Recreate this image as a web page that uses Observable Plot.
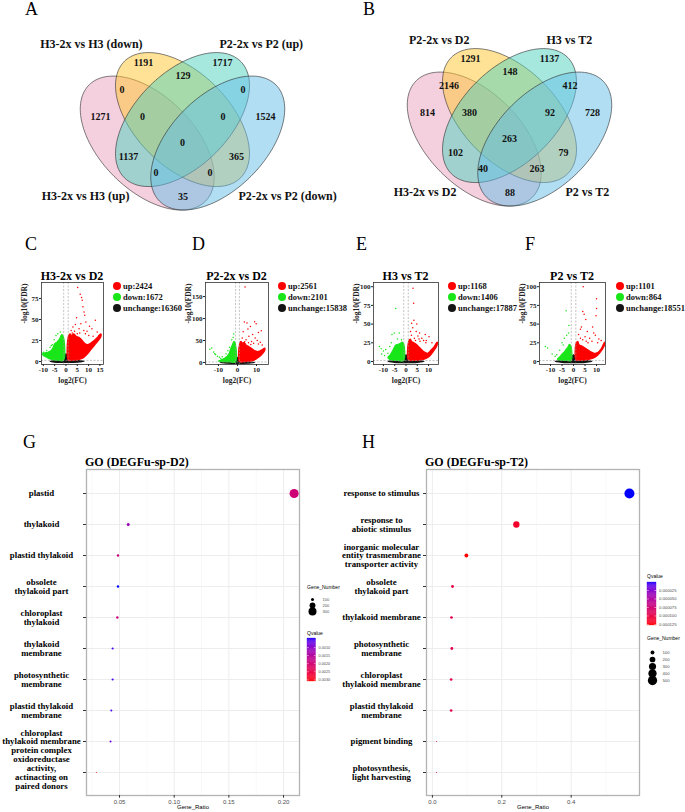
<!DOCTYPE html>
<html><head><meta charset="utf-8">
<script src="https://cdn.jsdelivr.net/npm/d3@7"></script>
<script src="https://cdn.jsdelivr.net/npm/@observablehq/plot@0.6"></script>
<style>
body{margin:0;background:#fff;}
#root{position:relative;width:685px;height:812px;overflow:hidden;background:#fff;}
.abs{position:absolute;}
.abs svg{display:block;max-width:none;}
</style></head><body><div id="root"></div>
<script>
// ---------------- DATA ----------------
// Venn (A and B): region order = set memberships
const vennRegions = ["2","23","3","12","34","1","123","234","4","1234","13","24","134","124","14"];
const vennALabels = ["H3-2x vs H3 (up)","H3-2x vs H3 (down)","P2-2x vs P2 (up)","P2-2x vs P2 (down)"];
const vennACounts = [1191,129,1717,0,0,1271,0,0,1524,0,1137,365,0,0,35];
const vennBLabels = ["H3-2x vs D2","P2-2x vs D2","H3 vs T2","P2 vs T2"];
const vennBCounts = [1291,148,1137,2146,412,814,380,92,728,263,102,79,40,263,88];

// Volcano (C-F)
const volcanoTitles = ["H3-2x vs D2","P2-2x vs D2","H3 vs T2","P2 vs T2"];
const upCounts = [2424,2561,1168,1101];
const downCounts = [1672,2101,1406,864];
const unchangeCounts = [16360,15838,17887,18551];
const fcThreshold = [-1,1];
const fdrThreshold = [1.3];
const volcXTicks = [[-10,-5,0,5,10,15],[-10,0,10],[-10,-5,0,5,10],[-10,-5,0,5,10]];
const volcYTicks = [[0,25,50,75],[0,50,100,150],[0,25,50,75,100],[0,25,50,75,100]];

const volcCUpCloud = [[1.1,1.3],[1.1,30],[1.8,33],[2.5,31],[3.5,33],[4.5,30],[5.5,29],[6.5,27],[7.5,24],[8.5,21],[9.5,20],[11,22],[12.5,25],[14,29],[15.4,33],[15.4,29],[14,24],[12.5,19],[11,14],[9.5,9],[8,5],[6.5,3],[5,2],[3,1.5]];
const volcCUpPts = [[5.2,88],[6.3,80],[6.9,76],[7.2,73],[7.5,65],[8,59],[8.3,55],[4.7,52],[8.8,47],[13,49],[4.2,44],[6.6,45],[10.4,42],[11.5,39],[3.1,41],[5.8,39],[7.9,37],[9.3,36],[13.8,35],[2.3,37],[3.8,36],[6.1,34],[8.6,33],[10.1,31],[12,30],[14.6,31],[2.8,34],[5,33]];
const volcCDownCloud = [[-1.1,1.3],[-1.1,29],[-1.8,32],[-2.6,28],[-3.3,25],[-4,23],[-5,21],[-5.6,17],[-6.5,13],[-8,11],[-9.5,10],[-10.3,9],[-10,7],[-8.5,5],[-7,3],[-5.5,2],[-3.5,1.5]];
const volcCDownPts = [[-3.6,33],[-4.4,31],[-2.5,35],[-2.2,30],[-6,20],[-7,17],[-8.5,13],[-9.8,11],[-10.5,10],[-5.2,26],[-6.5,19]];
const volcCBase = [[-7,0.3],[-4,1.5],[-1,1.9],[-0.9,6],[0,9],[0.9,6],[1,1.9],[4,1.5],[8,0.3],[5,-0.8],[0,-1.2],[-5,-0.8]];

const volcDUpCloud = [[1.1,2],[1.1,42],[1.8,48],[2.8,44],[3.5,46],[4.5,40],[6,36],[7.5,32],[9,27],[10.5,25],[12,27],[13.5,31],[14.3,33],[14.3,27],[12.5,17],[10.5,10],[8.5,5],[6,3],[3.5,2]];
const volcDUpPts = [[4,172],[3.6,92],[5,90],[9,93],[9.8,88],[6.8,82],[5.5,76],[3,70],[11,68],[8,64],[12.5,72],[6,60],[9.3,56],[2.5,56],[4.5,52],[10.4,50],[7.4,48],[12,46],[3.8,47],[5.8,45],[8.5,44],[11,42],[13,40],[2,44],[7,41]];
const volcDDownCloud = [[-1.1,1.3],[-1.1,42],[-1.8,48],[-2.5,42],[-3.2,35],[-3.8,28],[-4.5,20],[-5.5,14],[-7,9],[-9,5],[-10,3],[-7,2],[-4,1.5]];
const volcDDownPts = [[-2,65],[-2.3,57],[-3,52],[-13.5,33],[-14.5,30],[-12.5,24],[-11.5,18],[-10.5,14],[-9.5,12],[-8,13],[-6,20],[-5,27],[-4.2,35],[-12,20],[-8.8,9]];
const volcDBase = [[-9,0.3],[-4,1.8],[-1,2.2],[-0.9,8],[0,12],[0.9,8],[1,2.2],[4,1.8],[9,0.3],[5,-1.5],[0,-2],[-5,-1.5]];

const volcEUpCloud = [[1.1,2],[1.1,26],[1.8,30],[2.5,27],[3.5,25],[4.5,23],[5.5,20],[6.5,17],[8,13],[9.5,11],[11,15],[12.5,20],[13.8,26],[13.8,22],[12,13],[10,6],[8,3],[5,1.8],[3,1.5]];
const volcEUpPts = [[3.1,98],[3.4,78],[2.5,51],[3.5,55],[4.8,50],[3,45],[6,38],[8.5,36],[4.5,40],[7,31],[9,28],[10.2,33],[11.5,25],[6.2,27],[2.4,35],[3.7,31],[5.3,34],[7.8,28],[8.8,25],[2,40],[5.8,30],[4.2,28]];
const volcEDownCloud = [[-1.1,1.3],[-1.1,24],[-1.8,26],[-2.6,24],[-3.5,23],[-4.5,22],[-5.3,18],[-6,14],[-7,9],[-8,5],[-7,2.5],[-4,1.5]];
const volcEDownPts = [[-4.6,71],[-5.2,38],[-3,38],[-6.2,36],[-11.8,20],[-11,17],[-10,14],[-9,16],[-8,11],[-10.8,10],[-7.2,20],[-2,29],[-6.5,25],[-9.5,8],[-3.8,30]];
const volcEBase = [[-8,0.3],[-4,1.5],[-1,2],[-0.9,6],[0,9],[0.9,6],[1,2],[4,1.5],[8,0.3],[5,-1.2],[0,-1.6],[-5,-1.2]];

const volcFUpCloud = [[1.1,2],[1.1,24],[1.8,27],[2.5,22],[3.5,21],[4.5,19],[6,16],[7.5,13],[9,11],[10.5,12],[12,17],[13.5,26],[13.5,22],[11.5,12],[9.5,6],[7,3],[4,1.8],[2.5,1.5]];
const volcFUpPts = [[4.2,100],[10,84],[10,71],[9.8,61],[4,67],[4.6,63],[5.3,56],[3,43],[3.4,46],[6,40],[8.3,46],[8.8,38],[9.5,35],[7,31],[5,33],[11,30],[12,28],[2.2,36],[6.3,25],[8,27],[4,29],[10.5,25],[3,31],[5.5,27]];
const volcFDownCloud = [[-1.1,1.3],[-1.1,20],[-1.8,23],[-2.5,19],[-3.3,16],[-4,13],[-5,10],[-6,6],[-7,3],[-5,1.8],[-3,1.4]];
const volcFDownPts = [[-3.2,68],[-2,48],[-2.2,38],[-3,35],[-4,31],[-5,25],[-12.3,20],[-11.3,18],[-9.3,10],[-7.3,9],[-4.5,22],[-6,15],[-8,7]];
const volcFBase = [[-8,0.3],[-4,1.5],[-1,2],[-0.9,6],[0,9],[0.9,6],[1,2],[4,1.5],[8,0.3],[5,-1.2],[0,-1.6],[-5,-1.2]];

// GO (G: D2, H: T2)
const goDTitle = "GO (DEGFu-sp-D2)";
const goDTerms = ["plastid","thylakoid","plastid thylakoid","obsolete\nthylakoid part","chloroplast\nthylakoid","thylakoid\nmembrane","photosynthetic\nmembrane","plastid thylakoid\nmembrane","chloroplast\nthylakoid membrane\nprotein complex","oxidoreductase\nactivity,\nactinacting on\npaired donors"];
const goDRatio = [0.2097,0.058,0.0486,0.0486,0.048,0.0437,0.0437,0.0425,0.0418,0.0288];
const goDCount = [361,100,84,84,83,75,75,73,72,50];
const goDQvalue = [0.0020,0.0012,0.0019,0.00045,0.0019,0.00057,0.00057,0.0006,0.00084,0.0031];
const goDXTicks = [0.05,0.10,0.15,0.20];
const goDXMinor = [0.025,0.075,0.125,0.175];
const goDSizeLegend = [100,200,300];
const goDQTicks = [0.0010,0.0015,0.0020,0.0025,0.0030];

const goTTitle = "GO (DEGFu-sp-T2)";
const goTTerms = ["response to stimulus","response to\nabiotic stimulus","inorganic molecular\nentity trasmembrane\ntransporter activity","obsolete\nthylakoid part","thylakoid membrane","photosynthetic\nmembrane","chloroplast\nthylakoid membrane","plastid thylakoid\nmembrane","pigment binding","photosynthesis,\nlight harvesting"];
const goTRatio = [0.568,0.242,0.098,0.058,0.055,0.056,0.054,0.054,0.012,0.012];
const goTCount = [568,242,98,58,55,56,54,54,12,12];
const goTQvalue = [0.0000015,0.000115,0.000128,0.000102,0.0001,0.0001,0.0000995,0.000099,0.00009,0.00009];
const goTXTicks = [0.0,0.2,0.4];
const goTXMinor = [0.1,0.3,0.5];
const goTSizeLegend = [100,200,300,400,500];
const goTQTicks = [0.000025,0.00005,0.000075,0.0001,0.000125];

// ---------------- LAYOUT ----------------
const root = document.getElementById("root");
function place(node, left, top){
  const d = document.createElement("div");
  d.className = "abs"; d.style.left = left+"px"; d.style.top = top+"px";
  d.appendChild(node); root.appendChild(d); return d;
}
const SERIF = "Liberation Serif, Times New Roman, serif";
const SANS = "Liberation Sans, Arial, sans-serif";

// Venn geometry (standard 4-ellipse layout, unit square)
const vennShape = {a:0.35, b:0.2, scale:235};
const vennEllipses = [
  {cx:0.35, cy:0.47, rot:135, fill:"#E9A1BD"},
  {cx:0.50, cy:0.57, rot:135, fill:"#FFC52D"},
  {cx:0.50, cy:0.57, rot:45,  fill:"#4DD1BD"},
  {cx:0.65, cy:0.47, rot:45,  fill:"#65BDE7"}
];
const vennRegionPos = {"2":[0.334,0.810],"23":[0.502,0.757],"3":[0.670,0.810],"12":[0.243,0.698],"34":[0.757,0.698],
  "1":[0.151,0.583],"123":[0.330,0.583],"234":[0.672,0.583],"4":[0.853,0.583],"1234":[0.5,0.472],
  "13":[0.270,0.412],"24":[0.730,0.412],"134":[0.387,0.342],"124":[0.617,0.342],"14":[0.502,0.240]};
const vennSetLabelPos = [[0.274,0.246,"end"],[0.330,0.891,"end"],[0.657,0.891,"start"],[0.738,0.246,"start"]];
function ellipsePts(e){
  const th = e.rot*Math.PI/180;
  return d3.range(0,360,3).map(d=>{
    const t = d*Math.PI/180, u = vennShape.a*Math.cos(t), v = vennShape.b*Math.sin(t);
    return {x: e.cx + u*Math.cos(th) - v*Math.sin(th), y: e.cy + u*Math.sin(th) + v*Math.cos(th)};
  });
}
function venn(counts, labels, cx, y0){
  const s = vennShape.scale;
  const marks = vennEllipses.map(e => Plot.line(ellipsePts(e), {x:"x", y:"y", fill:e.fill, fillOpacity:0.5, stroke:"#2a2a2a", strokeOpacity:0.75, strokeWidth:0.8, curve:"linear-closed"}));
  marks.push(Plot.text(counts, {x:(d,i)=>vennRegionPos[vennRegions[i]][0], y:(d,i)=>vennRegionPos[vennRegions[i]][1], text:d=>String(d), fontSize:10, fontWeight:"bold", fill:"#111"}));
  ["end","start"].forEach(anchor=>{
    const idx = [0,1,2,3].filter(i=>vennSetLabelPos[i][2]===anchor);
    marks.push(Plot.text(idx, {x:i=>vennSetLabelPos[i][0], y:i=>vennSetLabelPos[i][1], text:i=>labels[i], textAnchor:anchor, fontSize:12, fontWeight:"bold", fill:"#111"}));
  });
  return Plot.plot({width:340, height:222, margin:0,
    x:{domain:[0,1], range:[cx-0.5*s, cx+0.5*s], axis:null},
    y:{domain:[0,1], range:[y0, y0-s], axis:null},
    style:{fontFamily:SERIF, background:"transparent", overflow:"visible"},
    marks});
}
place(venn(vennACounts, vennALabels, 182, 253), 0, 0);
place(venn(vennBCounts, vennBLabels, 169, 249), 340, 0);

// Volcano
const RED = "#FF0000", GREEN = "#19E619", BLACK = "#141414";
const volcData = [
  {up:volcCUpCloud, upPts:volcCUpPts, down:volcCDownCloud, downPts:volcCDownPts, base:volcCBase},
  {up:volcDUpCloud, upPts:volcDUpPts, down:volcDDownCloud, downPts:volcDDownPts, base:volcDBase},
  {up:volcEUpCloud, upPts:volcEUpPts, down:volcEDownCloud, downPts:volcEDownPts, base:volcEBase},
  {up:volcFUpCloud, upPts:volcFUpPts, down:volcFDownCloud, downPts:volcFDownPts, base:volcFBase}
];
const volcLayout = [
  {left:0,   w:112, mr:9, xd:[-10.8,16.6], yd:[-3.6,94]},
  {left:164, w:112, mr:8, xd:[-16.8,16.3], yd:[-4.5,182]},
  {left:332, w:114, mr:8, xd:[-14.4,14.4], yd:[-4,105.6]},
  {left:498, w:115, mr:8, xd:[-14.8,13.9], yd:[-4,105.6]}
];
function volcano(i){
  const D = volcData[i], L = volcLayout[i];
  const cloud = (pts, c) => Plot.line(pts, {x:d=>d[0], y:d=>d[1], fill:c, stroke:c, strokeWidth:1.2, curve:"catmull-rom-closed", clip:true});
  return Plot.plot({width:L.w, height:120, marginLeft:41, marginRight:L.mr, marginTop:12, marginBottom:26,
    x:{domain:L.xd}, y:{domain:L.yd},
    style:{fontFamily:SERIF, fontSize:"7px", fontWeight:"bold", background:"transparent", overflow:"visible", color:"#222"},
    marks:[
      cloud(D.base, BLACK),
      cloud(D.down, GREEN),
      cloud(D.up, RED),
      Plot.dot(D.upPts, {x:d=>d[0], y:d=>d[1], r:0.75, fill:RED, clip:true}),
      Plot.dot(D.downPts, {x:d=>d[0], y:d=>d[1], r:0.75, fill:GREEN, clip:true}),
      Plot.ruleX(fcThreshold, {stroke:"#9a9a9a", strokeDasharray:"2,1.5", strokeWidth:0.6}),
      Plot.ruleY(fdrThreshold, {stroke:"#9a9a9a", strokeDasharray:"2,1.5", strokeWidth:0.6}),
      Plot.frame({stroke:"#333", strokeWidth:0.8}),
      Plot.axisX({ticks:volcXTicks[i], tickFormat:d=>String(d), tickSize:2, tickPadding:1, label:null}),
      Plot.axisY({ticks:volcYTicks[i], tickFormat:d=>String(d), tickSize:2, tickPadding:1, label:null}),
      Plot.text(["log2(FC)"], {frameAnchor:"bottom", dy:18, fontSize:7.5}),
      Plot.text(["-log10(FDR)"], {frameAnchor:"left", dx:-17, rotate:-90, fontSize:7.5})
    ]});
}
[0,1,2,3].forEach(i=>place(volcano(i), volcLayout[i].left, 270));

// GO dot plots
function goPlot(cfg){
  const data = cfg.terms.map((t,i)=>({term:t, ratio:cfg.ratio[i], count:cfg.count[i], q:cfg.q[i]}));
  return Plot.plot({width:cfg.w, height:344, marginLeft:cfg.ml, marginRight:1, marginTop:1, marginBottom:17,
    x:{domain:cfg.xd, ticks:cfg.xt, tickFormat:d3.format(cfg.fmt)},
    y:{type:"point", domain:cfg.terms, padding:0.6},
    r:cfg.r, color:cfg.color,
    style:{fontFamily:SANS, fontSize:"6px", color:"#4d4d4d", background:"transparent", overflow:"visible"},
    marks:[
      Plot.ruleX(cfg.minor, {stroke:"#f4f4f4", strokeWidth:0.6}),
      Plot.ruleX(cfg.xt, {stroke:"#ebebeb", strokeWidth:0.9}),
      Plot.ruleY(cfg.terms, {stroke:"#ebebeb", strokeWidth:0.9}),
      Plot.dot(data, {x:"ratio", y:"term", r:"count", fill:"q"}),
      Plot.frame({stroke:"#b3b3b3", strokeWidth:1.3}),
      Plot.axisX({ticks:cfg.xt, tickFormat:d3.format(cfg.fmt), tickSize:2.7, tickPadding:1.5, label:null, stroke:"#333"}),
      Plot.axisY({tickSize:3, tickFormat:()=>"", label:null, stroke:"#333"}),
      Plot.text(cfg.terms, {y:d=>d, frameAnchor:"left", dx:-45, textAnchor:"middle", lineHeight:1, fontFamily:SERIF, fontWeight:"bold", fontSize:8.8, fill:"#000"}),
      Plot.text(["Gene_Ratio"], {frameAnchor:"bottom", dy:13, fill:"#000"})
    ]});
}
const goDColor = {type:"linear", domain:[0.00045,0.0031], range:["blue","red"], interpolate:"lab"};
const goTColor = {type:"linear", domain:[0.0000015,0.000128], range:["blue","red"], interpolate:"lab"};
const goDR = {type:"sqrt", domain:[50,361], range:[0.5,4.6]};
const goTR = {type:"sqrt", domain:[12,568], range:[0.5,5]};
place(goPlot({terms:goDTerms, ratio:goDRatio, count:goDCount, q:goDQvalue, w:300, ml:86, xd:[0.0198,0.2146], xt:goDXTicks, minor:goDXMinor, fmt:".2f", r:goDR, color:goDColor}), 0, 468);
place(goPlot({terms:goTTerms, ratio:goTRatio, count:goTCount, q:goTQvalue, w:305, ml:91, xd:[-0.017,0.597], xt:goTXTicks, minor:goTXMinor, fmt:".1f", r:goTR, color:goTColor}), 335, 468);

// legends for GO
function sizeLegend(values, rspec, h, y0, y1, fs){
  return Plot.plot({width:40, height:h, margin:0,
    y:{type:"point", domain:values, range:[y0,y1], axis:null}, r:rspec,
    style:{fontFamily:SANS, background:"transparent", overflow:"visible"},
    marks:[
      Plot.dot(values, {y:d=>d, r:d=>d, fill:"#000", frameAnchor:"left", dx:7}),
      Plot.text(values, {y:d=>d, text:d=>String(d), frameAnchor:"left", dx:17, textAnchor:"start", fontSize:fs, fill:"#4d4d4d"})
    ]});
}
function colorbar(cspec, ticks, fmt, bw, h, fs){
  const qd = cspec.domain, n = 48;
  const steps = d3.range(n).map(i=>({a:qd[0]+(qd[1]-qd[0])*i/n, b:qd[0]+(qd[1]-qd[0])*(i+1)/n}));
  return Plot.plot({width:40, height:h, margin:0,
    x:{domain:[0,1], range:[0,bw], axis:null}, y:{domain:qd, range:[0,h], axis:null}, color:cspec,
    style:{fontFamily:SANS, background:"transparent", overflow:"visible"},
    marks:[
      Plot.rect(steps, {x1:0, x2:1, y1:"a", y2:"b", fill:d=>(d.a+d.b)/2, stroke:d=>(d.a+d.b)/2, strokeWidth:0.3}),
      Plot.ruleY(ticks, {x1:0, x2:0.2, stroke:"#fff", strokeWidth:0.5}),
      Plot.ruleY(ticks, {x1:0.8, x2:1, stroke:"#fff", strokeWidth:0.5}),
      Plot.text(ticks, {x:1, y:d=>d, text:d3.format(fmt), dx:2.5, textAnchor:"start", fontSize:fs, fill:"#4d4d4d"})
    ]});
}
place(sizeLegend(goDSizeLegend, goDR, 30, 6, 24, 4), 305, 590);
place(colorbar(goDColor, goDQTicks, ".4f", 8.5, 43, 3.8), 307, 638);
place(colorbar(goTColor, goTQTicks, ".6f", 9, 43, 4.2), 647, 582);
place(sizeLegend(goTSizeLegend, goTR, 50, 7, 44, 4.2), 645, 640);

// ---------------- TEXT OVERLAY ----------------
const ov = d3.select(root).append("svg").attr("width",685).attr("height",812)
  .style("position","absolute").style("left","0px").style("top","0px").style("pointer-events","none");
function txt(s, x, y, o={}){
  ov.append("text").attr("x",x).attr("y",y).attr("text-anchor",o.anchor||"start")
    .attr("font-family",o.family||SERIF).attr("font-size",o.size||12).attr("font-weight",o.weight||"normal")
    .attr("fill",o.fill||"#000").text(s);
}
[["A",25,15],["B",363,15],["C",25,250],["D",192,250],["E",356,250],["F",525,250],["G",23,448],["H",362,448]]
  .forEach(([s,x,y])=>txt(s,x,y,{size:18}));
const volcTitleX = [72,236.5,405.5,572];
const volcLegendX = [117,282,452,620];
volcanoTitles.forEach((t,i)=>{
  txt(t, volcTitleX[i], 280, {anchor:"middle", size:12, weight:"bold"});
  const items = [["up:"+upCounts[i],RED],["down:"+downCounts[i],GREEN],["unchange:"+unchangeCounts[i],BLACK]];
  items.forEach(([s,c],k)=>{
    const y = 286 + k*11;
    ov.append("circle").attr("cx",volcLegendX[i]).attr("cy",y).attr("r",4).attr("fill",c);
    txt(s, volcLegendX[i]+6, y+3, {size:8.5, weight:"bold", fill:"#111"});
  });
});
txt(goDTitle, 85, 466, {size:12, weight:"bold"});
txt(goTTitle, 425, 466, {size:12, weight:"bold"});
txt("Gene_Number", 307, 589, {family:SANS, size:5});
txt("Qvalue", 307, 635, {family:SANS, size:5});
txt("Qvalue", 647, 578, {family:SANS, size:5});
txt("Gene_Number", 647, 640, {family:SANS, size:5});
</script></body></html>
